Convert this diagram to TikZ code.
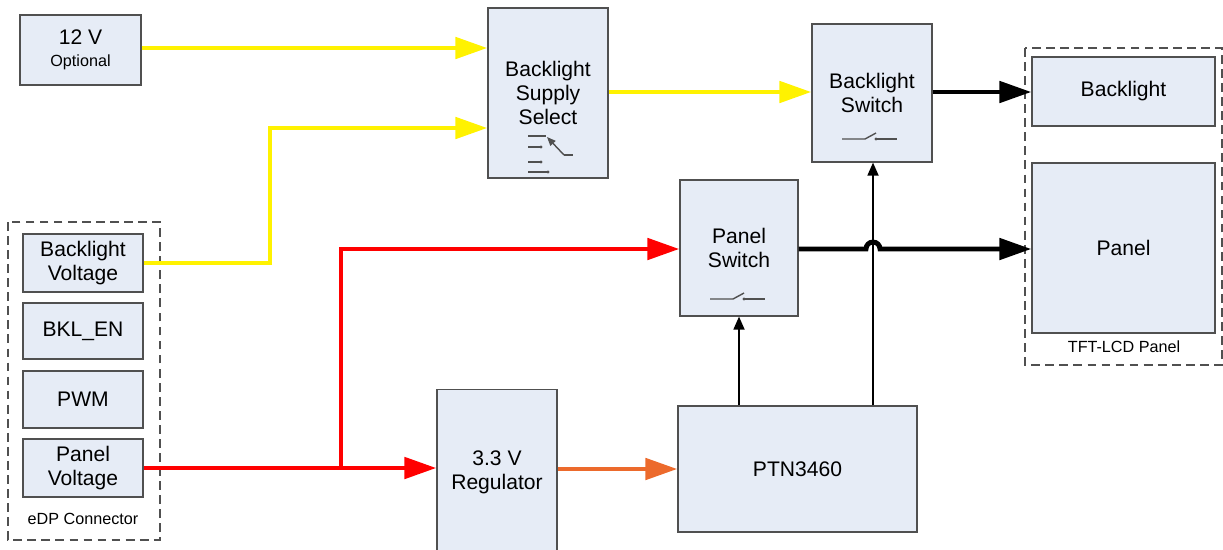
\documentclass[tikz,border=0pt]{standalone}
\usepackage{fontspec}
\setmainfont{Liberation Sans}
\usetikzlibrary{arrows.meta}

\definecolor{boxfill}{HTML}{E6ECF6}
\definecolor{boxline}{HTML}{505050}
\definecolor{linkorange}{HTML}{EC6A2C}

\tikzset{
  block/.style={draw=boxline,fill=boxfill,line width=0.7pt,align=center,
    font=\fontsize{12}{13.8}\selectfont,inner sep=0pt},
  group/.style={draw=boxline,dash pattern=on 5pt off 3pt,line width=0.7pt},
  small/.style={font=\fontsize{9.2}{11}\selectfont},
  power/.style={line width=2.8pt,-{Triangle[length=0.64cm,width=0.42cm]}},
  signal/.style={line width=1pt,-{Triangle[length=0.26cm,width=0.22cm]}},
  sw/.style={line width=0.8pt,draw=boxline}
}

\begin{document}
\begin{tikzpicture}[x=0.02cm,y=-0.02cm]
  \useasboundingbox (0,0) rectangle (1223,549);

  % Grupos punteados
  \draw[group] (8,222) rectangle (160,540);
  \node[small] (edp) at (83,519) {eDP Connector};
  \draw[group] (1025,48) rectangle (1222,365);
  \node[small] (tft) at (1124,347) {TFT-LCD Panel};

  % Bloques
  \node[block,minimum width=2.42cm,minimum height=1.4cm] (twelve) at (80.5,50)
    {12 V\\[-1pt]{\fontsize{9.2}{11}\selectfont Optional}};
  \node[block,minimum width=2.4cm,minimum height=3.4cm] (select) at (548,93)
    {Backlight\\Supply\\Select};
  \node[block,minimum width=2.4cm,minimum height=2.76cm] (blswitch) at (872,93)
    {Backlight\\Switch};
  \node[block,minimum width=3.66cm,minimum height=1.38cm] (backlight) at (1123.5,91.5)
    {Backlight};
  \node[block,minimum width=3.66cm,minimum height=3.4cm] (panel) at (1123.5,248)
    {Panel};
  \node[block,minimum width=2.4cm,minimum height=1.16cm] (blvolt) at (83,263)
    {Backlight\\Voltage};
  \node[block,minimum width=2.4cm,minimum height=1.12cm] (bklen) at (83,331)
    {BKL\_EN};
  \node[block,minimum width=2.4cm,minimum height=1.14cm] (pwm) at (83,399.5)
    {PWM};
  \node[block,minimum width=2.4cm,minimum height=1.16cm] (pvolt) at (83,468)
    {Panel\\Voltage};
  \node[block,minimum width=2.36cm,minimum height=2.72cm] (pswitch) at (739,248)
    {Panel\\Switch};
  \node[block,minimum width=2.4cm,minimum height=3.3cm] (reg) at (497,472)
    {3.3 V\\Regulator};
  \node[block,minimum width=4.78cm,minimum height=2.52cm] (ptn) at (797.5,469)
    {PTN3460};

  % Simbolos de interruptor
  \draw[sw] (710,299) -- (733,299) -- (744,293);
  \draw[sw] (744,299) -- (765,299);
  \fill[boxline] (744,299) circle (1.6);
  \draw[sw] (842,139) -- (865,139) -- (876,133);
  \draw[sw] (876,139) -- (897,139);
  \fill[boxline] (876,139) circle (1.6);
  \draw[sw] (528,136) -- (546,136);
  \draw[sw,-{Triangle[length=5pt,width=4pt]}] (564,155) -- (547,137);
  \draw[sw] (564,155) -- (573,155);
  \foreach \yy/\xx in {147/541,162/541,172/548}
    \draw[sw] (528,\yy) -- (\xx,\yy);
  \foreach \yy/\xx in {147/541,162/541,172/548}
    \fill[boxline] (\xx,\yy) circle (1.6);

  % Conectores
  \draw[power,yellow] (twelve.east |- 0,48) -- (select.west |- 0,48);
  \draw[power,yellow] (blvolt.east) -- (270,263) -- (270,128) -- (select.west |- 0,128);
  \draw[power,yellow] (select.east |- 0,92) -- (blswitch.west |- 0,92);
  \draw[power,black] (blswitch.east |- 0,92) -- (backlight.west |- 0,92);
  \draw[power,red] (pvolt.east) -- (reg.west |- pvolt.east);
  \draw[power,red] (341,468) -- (341,249) -- (pswitch.west |- 0,249);
  \draw[power,linkorange] (reg.east |- ptn.west) -- (ptn.west);
  \draw[signal] (ptn.north -| pswitch.south) -- (pswitch.south);
  \draw[signal] (ptn.north -| 873,0) -- (blswitch.south -| 873,0);
  \draw[power,black] (pswitch.east |- 0,249) -- (866,249) arc (180:360:7)
    -- (panel.west |- 0,249);
\end{tikzpicture}
\end{document}
